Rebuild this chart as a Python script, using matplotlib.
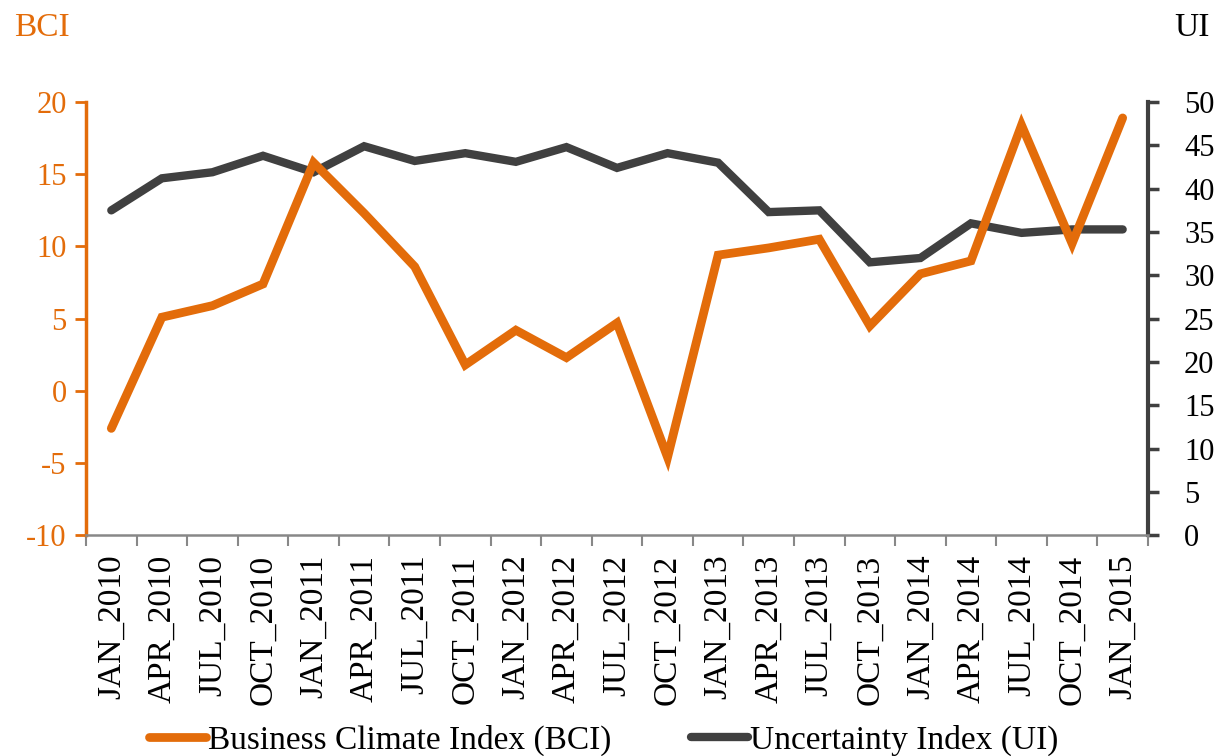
import numpy as np
import matplotlib
matplotlib.use("Agg")
import matplotlib.pyplot as plt
from matplotlib.ticker import FixedLocator, NullFormatter, FixedFormatter

plt.rcParams['font.family'] = ['Liberation Serif', 'DejaVu Serif']
plt.rcParams['axes.unicode_minus'] = False

quarters = ["JAN_2010", "APR_2010", "JUL_2010", "OCT_2010", "JAN_2011", "APR_2011",
            "JUL_2011", "OCT_2011", "JAN_2012", "APR_2012", "JUL_2012", "OCT_2012",
            "JAN_2013", "APR_2013", "JUL_2013", "OCT_2013", "JAN_2014", "APR_2014",
            "JUL_2014", "OCT_2014", "JAN_2015"]
bci = [-2.6, 5.1, 5.9, 7.4, 15.8, 12.3, 8.6, 1.8, 4.2, 2.3, 4.7, -4.6,
       9.4, 9.9, 10.5, 4.5, 8.1, 9.0, 18.4, 10.2, 18.9]
ui = [37.5, 41.2, 41.9, 43.8, 41.9, 44.9, 43.2, 44.1, 43.1, 44.8, 42.4, 44.1,
      43.0, 37.3, 37.5, 31.5, 32.0, 36.0, 34.9, 35.3, 35.3]
left_ticks = [-10, -5, 0, 5, 10, 15, 20]
right_ticks = [0, 5, 10, 15, 20, 25, 30, 35, 40, 45, 50]

orange = '#E36C0A'
dark = '#404040'
fs = 22

fig = plt.figure(figsize=(12.22, 7.56), dpi=100)
ax = fig.add_axes([0.0704, 0.292, 0.8690, 0.573])
ax2 = ax.twinx()
ax.set_zorder(ax2.get_zorder() + 1)
ax.patch.set_visible(False)

x = np.arange(len(quarters))
l1, = ax.plot(x, bci, color=orange, lw=6.3, solid_capstyle='round', solid_joinstyle='miter')
l2, = ax2.plot(x, ui, color=dark, lw=6, solid_capstyle='round', solid_joinstyle='miter')

ax.set_xlim(-0.5, len(quarters) - 0.5)
ax.set_ylim(-10, 20)
ax2.set_ylim(0, 50)

# x ticks at category boundaries, labels at centres
ax.xaxis.set_major_locator(FixedLocator(np.arange(len(quarters) + 1) - 0.5))
ax.xaxis.set_major_formatter(NullFormatter())
ax.xaxis.set_minor_locator(FixedLocator(x))
ax.xaxis.set_minor_formatter(FixedFormatter(quarters))
ax.tick_params(axis='x', which='major', length=8, width=1.5, color='#888888', direction='out')
ax.tick_params(axis='x', which='minor', length=0, pad=14, labelsize=24, labelrotation=90)

ax.set_yticks(left_ticks)
ax.set_yticklabels([str(t) for t in left_ticks])
ax.tick_params(axis='y', length=8, width=2, color=orange, labelcolor=orange,
               labelsize=fs, pad=6)
ax2.set_yticks(right_ticks)
ax2.tick_params(axis='y', length=8, width=2.5, color=dark, labelcolor='black',
                labelsize=fs, pad=18)

for a in (ax, ax2):
    a.spines['top'].set_visible(False)
ax.spines['right'].set_visible(False)
ax.spines['left'].set_color(orange)
ax.spines['left'].set_linewidth(2.5)
ax.spines['bottom'].set_color('#888888')
ax.spines['bottom'].set_linewidth(1.8)
ax2.spines['left'].set_visible(False)
ax2.spines['bottom'].set_visible(False)
ax2.spines['right'].set_color(dark)
ax2.spines['right'].set_linewidth(3)

fig.text(14 / 1222, 1 - 28 / 756, "BCI", color=orange, fontsize=24, ha='left', va='center')
fig.text(1210 / 1222, 1 - 28 / 756, "UI", color='black', fontsize=24, ha='right', va='center')

fig.legend([l1, l2], ["Business Climate Index (BCI)", "Uncertainty Index (UI)"],
           loc='center', bbox_to_anchor=(0.494, 1 - 740 / 756), ncol=2, frameon=False,
           fontsize=24, handlelength=1.7, handletextpad=0.05, columnspacing=2.4)

fig.savefig("out.png", dpi=100)
